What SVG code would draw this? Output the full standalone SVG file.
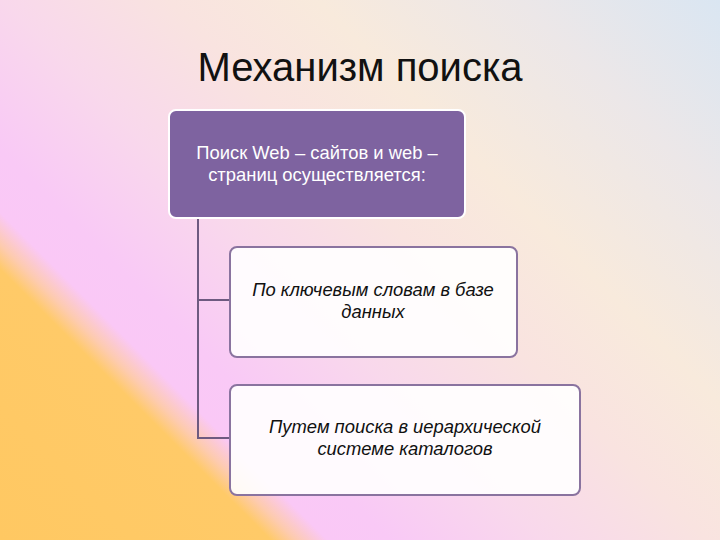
<svg xmlns="http://www.w3.org/2000/svg" width="720" height="540" viewBox="0 0 720 540">
<defs>
<linearGradient id="bg" gradientUnits="userSpaceOnUse" x1="0" y1="540" x2="630" y2="-90">
<stop offset="0" stop-color="#FFC862"/>
<stop offset="0.215" stop-color="#FFCA68"/>
<stop offset="0.235" stop-color="#FDCBB0"/>
<stop offset="0.26" stop-color="#FAC8F6"/>
<stop offset="0.31" stop-color="#F9C9F6"/>
<stop offset="0.43" stop-color="#F9D8EC"/>
<stop offset="0.56" stop-color="#F9E3E0"/>
<stop offset="0.68" stop-color="#F8EADC"/>
<stop offset="0.84" stop-color="#ECE7E8"/>
<stop offset="1" stop-color="#DAE6F2"/>
</linearGradient>
<style>
.title{font-family:"Liberation Sans",Arial,sans-serif;font-size:40px;fill:#111;text-anchor:middle}
.head{fill:#7E63A0;stroke:#FFFFFF;stroke-width:2}
.child{fill:#FFFFFF;fill-opacity:0.9;stroke:#8A739F;stroke-width:2}
.ht{font-family:"Liberation Sans",Arial,sans-serif;font-size:18.4px;fill:#FFFFFF;text-anchor:middle}
.ct{font-family:"Liberation Sans",Arial,sans-serif;font-size:18.4px;font-style:italic;fill:#111;text-anchor:middle}
.conn{fill:none;stroke:#6E5A80;stroke-width:2}
</style>
</defs>
<rect width="720" height="540" fill="url(#bg)"/>
<text class="title" x="360" y="81">Механизм поиска</text>
<g id="connectors">
<path class="conn" d="M198,218 V300 H231"/>
<path class="conn" d="M198,300 V438 H231"/>
</g>
<g id="node-root">
<rect class="head" x="169" y="110" width="296" height="108" rx="7"/>
<text class="ht" x="317" y="159">Поиск Web – сайтов и web –</text>
<text class="ht" x="317" y="181">страниц осуществляется:</text>
</g>
<g id="node-keywords">
<rect class="child" x="230" y="247" width="287" height="110" rx="7"/>
<text class="ct" x="373" y="296">По ключевым словам в базе</text>
<text class="ct" x="373" y="318">данных</text>
</g>
<g id="node-catalog">
<rect class="child" x="230" y="385" width="350" height="110" rx="7"/>
<text class="ct" x="405" y="433">Путем поиска в иерархической</text>
<text class="ct" x="405" y="455">системе каталогов</text>
</g>
</svg>
